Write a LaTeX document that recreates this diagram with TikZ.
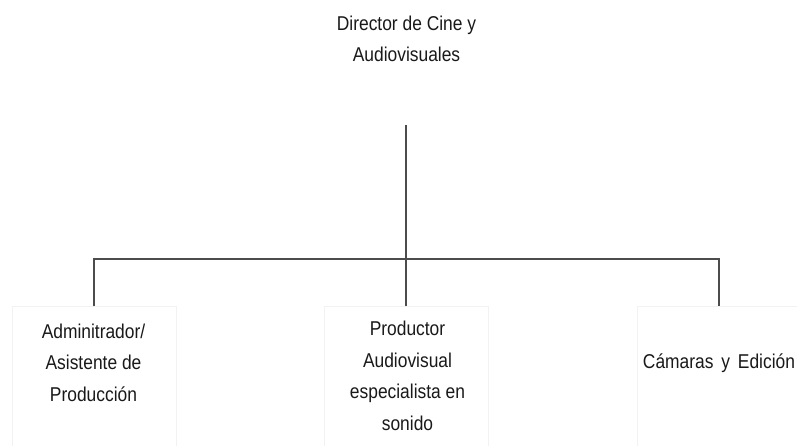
\documentclass[tikz,border=0pt]{standalone}
\usepackage{fontspec}
\newfontfamily\labfont[FakeStretch=0.87]{Liberation Sans}
\begin{document}
\begin{tikzpicture}[x=1pt,y=-1pt,
 txt/.style={font=\labfont\fontsize{20}{31.5}\selectfont, align=center, inner sep=0pt, text=black!90},
 box/.style={draw=black!5, line width=0.8pt, minimum width=164pt, minimum height=150pt, anchor=north, inner sep=0pt},
 link/.style={draw=black!70, line width=1.4pt}]
\useasboundingbox (0,0) rectangle (797,446);
\node[box] (adm) at (94,306) {};
\node[box] (prod) at (406,306) {};
\node[box] (cam) at (719,306) {};
\node[txt, anchor=base] (dir) at (406.5,62) {Director de Cine y\\Audiovisuales};
\node[txt, anchor=base] (admT) at (93.5,401) {Adminitrador/\\Asistente de\\Producción};
\node[txt, anchor=base] (prodT) at (407.5,430) {Productor\\Audiovisual\\especialista en\\sonido};
\node[txt, anchor=base] (camT) at (719,368) {Cámaras\hspace{3pt} y\hspace{3pt} Edición};
\coordinate (top) at (406,125);
\coordinate (jn) at (406,259);
\draw[link] (top) -- (prod.north);
\draw[link] (adm.north) |- (jn) -| (cam.north);
\end{tikzpicture}
\end{document}
